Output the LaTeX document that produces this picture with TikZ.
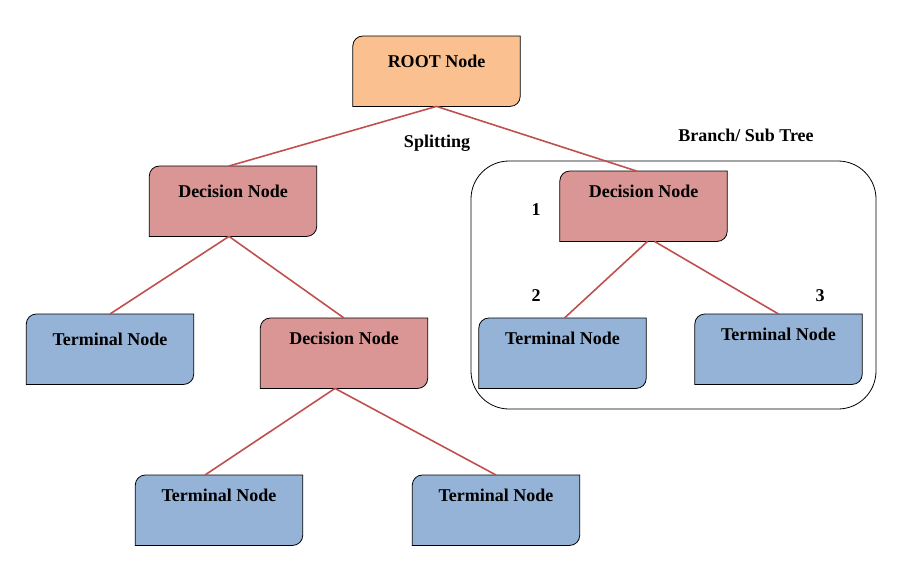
\documentclass[tikz,border=0pt]{standalone}
\usepackage{fontspec}
\setmainfont{Liberation Serif}
\usetikzlibrary{backgrounds}
\definecolor{rootfill}{RGB}{250,192,143}
\definecolor{decfill}{RGB}{217,150,148}
\definecolor{termfill}{RGB}{149,179,215}
\definecolor{linkred}{RGB}{192,80,77}
\tikzset{
  treebox/.style={anchor=north,minimum width=167pt,inner sep=0pt,text height=31pt,text depth=39pt,font=\fontsize{18}{20}\selectfont\bfseries},
  highbox/.style={treebox,text height=26pt,text depth=44pt},
  link/.style={draw=linkred,line width=1.6pt},
  tag/.style={font=\fontsize{18}{20}\selectfont\bfseries}
}

\begin{document}
\begin{tikzpicture}[x=1pt,y=-1pt]
        \useasboundingbox (0,0) rectangle (901,573);
        \node[draw,rounded corners=38pt,minimum width=405pt,minimum height=248pt,line width=0.8pt] (branch) at (673.5,285) {};
        \node[treebox] (root) at (436.5,36) {ROOT Node};
        \node[treebox] (decL) at (233,166) {Decision Node};
        \node[highbox] (decR) at (643.5,171) {Decision Node};
        \node[treebox] (termLL) at (110,314) {Terminal Node};
        \node[highbox] (decM) at (344,318) {Decision Node};
        \node[highbox] (termR1) at (562.5,318) {Terminal Node};
        \node[highbox] (termR2) at (778.5,314) {Terminal Node};
        \node[highbox] (termB1) at (219,475) {Terminal Node};
        \node[highbox] (termB2) at (496,475) {Terminal Node};
        \begin{scope}[on background layer]
          \foreach \n/\c in {root/rootfill,decL/decfill,decR/decfill,decM/decfill,termLL/termfill,termR1/termfill,termR2/termfill,termB1/termfill,termB2/termfill}
            \filldraw[fill=\c,draw=black,line width=0.8pt] (\n.south west) [rounded corners=10pt] -- (\n.north west) [sharp corners] -- (\n.north east) [rounded corners=10pt] -- (\n.south east) [sharp corners] -- cycle;
        \end{scope}
        \draw[link] (root.south) -- ([xshift=-4pt]decL.north);
        \draw[link] (root.south) -- ([xshift=-7pt]decR.north);
        \draw[link] ([xshift=-4pt]decL.south) -- (termLL.north);
        \draw[link] ([xshift=-4pt]decL.south) -- (decM.north);
        \draw[link] ([xshift=-9pt]decM.south) -- ([xshift=-14pt]termB1.north);
        \draw[link] ([xshift=-9pt]decM.south) -- (termB2.north);
        \draw[link] ([xshift=4pt]decR.south) -- ([xshift=2pt]termR1.north);
        \draw[link] ([xshift=11pt]decR.south) -- (termR2.north);
        \node[tag] (split) at (437,143) {Splitting};
        \node[tag] (subtree) at (746,135) {Branch/ Sub Tree};
        \node[tag] (num1) at (536,210) {1};
        \node[tag] (num2) at (536,296) {2};
        \node[tag] (num3) at (820,296) {3};
      \end{tikzpicture}
\end{document}
